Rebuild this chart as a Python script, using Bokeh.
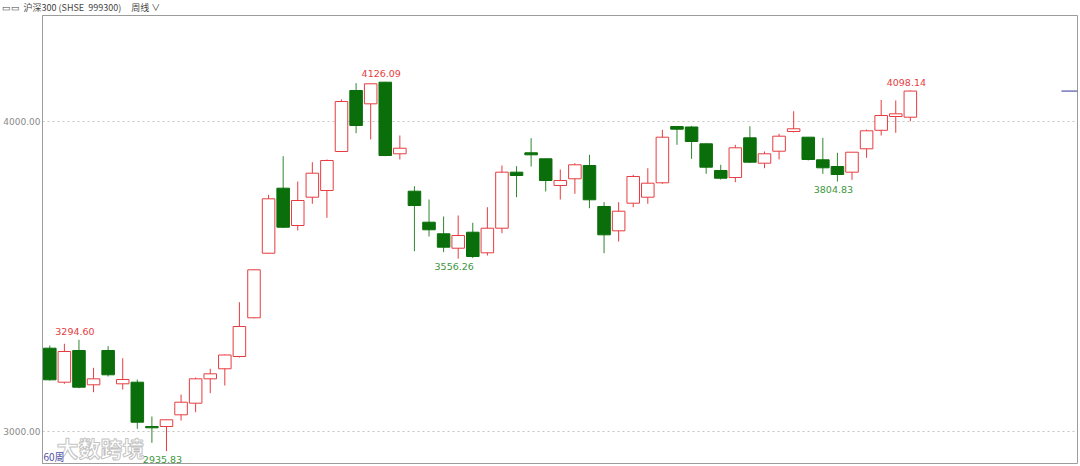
from bokeh.plotting import figure
from bokeh.models import Range1d, FixedTicker, NumeralTickFormatter, Label, ColumnDataSource
from bokeh.embed import file_html
from bokeh.resources import INLINE
from bokeh.core.properties import value

# ---- data (weekly candles) ----
opens = [3267.6, 3158.0, 3260.2, 3149.6, 3260.2, 3152.8, 3158.0, 3015.2, 3015.2, 3052.9,
         3090.3, 3168.9, 3201.2, 3240.8, 3365.6, 3573.8, 3783.4, 3663.1, 3754.4, 3776.0,
         3901.7, 4098.3, 4055.4, 4125.1, 3894.3, 3773.7, 3673.8, 3636.4, 3589.9, 3641.5,
         3575.1, 3654.4, 3835.0, 3897.5, 3878.1, 3792.1, 3813.7, 3856.5, 3724.4, 3646.0,
         3735.0, 3754.4, 3800.8, 3982.3, 3980.7, 3926.5, 3840.4, 3817.9, 3945.8, 3864.0,
         3902.6, 3966.2, 3947.8, 3874.9, 3853.3, 3835.0, 3910.4, 3970.0, 4014.5, 4012.2]
highs = [3276.3, 3281.8, 3294.60, 3204.4, 3274.0, 3235.3, 3166.7, 3047.4, 3038.0, 3118.3,
         3173.1, 3201.2, 3247.3, 3415.9, 3522.0, 3762.1, 3886.5, 3805.0, 3867.2, 3875.9,
         4069.3, 4121.9, 4120.9, 4126.09, 3953.3, 3789.8, 3746.9, 3692.1, 3695.4, 3671.8,
         3722.1, 3856.5, 3854.3, 3944.6, 3879.0, 3843.7, 3864.0, 3891.0, 3738.2, 3738.2,
         3826.6, 3847.8, 3971.6, 3984.0, 3984.0, 3927.5, 3858.8, 3923.3, 3983.2, 3901.7,
         3958.7, 4031.6, 3948.4, 3945.8, 3897.5, 3900.0, 3972.6, 4067.7, 4066.1, 4098.14]
lows = [3163.5, 3152.8, 3138.6, 3125.7, 3176.3, 3134.4, 3007.8, 2962.6, 2935.83, 3034.5,
        3061.3, 3122.5, 3147.3, 3237.6, 3364.0, 3572.0, 3655.0, 3647.0, 3733.1, 3688.0,
        3900.0, 3960.7, 3940.4, 3886.5, 3875.9, 3580.3, 3627.7, 3577.1, 3556.26, 3558.0,
        3566.4, 3638.3, 3754.4, 3853.3, 3772.7, 3746.9, 3765.3, 3718.9, 3573.8, 3611.5,
        3722.1, 3733.1, 3797.6, 3923.3, 3878.1, 3829.8, 3811.4, 3802.7, 3864.6, 3847.8,
        3875.9, 3963.0, 3872.7, 3829.8, 3804.83, 3810.4, 3881.4, 3953.3, 3962.0, 3999.4]
closes = [3165.7, 3256.9, 3141.9, 3168.9, 3181.8, 3166.7, 3029.0, 3011.0, 3036.8, 3093.5,
          3168.9, 3185.0, 3245.7, 3337.5, 3520.3, 3749.2, 3657.6, 3743.7, 3831.7, 3872.7,
          4062.9, 3985.5, 4119.9, 3888.8, 3912.3, 3727.6, 3649.3, 3593.2, 3630.9, 3563.2,
          3654.4, 3835.0, 3824.3, 3891.0, 3808.2, 3808.2, 3858.8, 3746.0, 3633.1, 3709.2,
          3821.1, 3799.5, 3947.8, 3973.6, 3933.9, 3851.1, 3815.6, 3913.6, 3867.2, 3894.3,
          3951.0, 3974.9, 3875.9, 3849.1, 3827.5, 3899.4, 3968.4, 4017.7, 4023.2, 4096.5]

high_marks = [2, 23, 59]   # candles whose high is annotated
low_marks = [8, 28, 54]    # candles whose low is annotated
y_ticks = [3000, 4000]
NB = "\u00a0"
header = "▭▭" + NB * 2 + "沪深300 (SHSE" + NB * 2 + "999300)" + NB * 5 + "周线 ∨"

RED = "#e63c40"
GREEN = "#0a6e0a"
GREEN_WICK = "#2f862f"

N = len(opens)
idx = list(range(N))
up = [c >= o for o, c in zip(opens, closes)]

def sub(cond):
    ii = [i for i in idx if cond(i)]
    return ColumnDataSource(dict(
        x=ii,
        top=[max(opens[i], closes[i]) for i in ii],
        bottom=[min(opens[i], closes[i]) for i in ii],
        high=[highs[i] for i in ii],
        low=[lows[i] for i in ii],
    ))

src_up = sub(lambda i: up[i])
src_dn = sub(lambda i: not up[i])

X0, X1 = -0.5, 70.46
p = figure(width=1080, height=466, output_backend="svg", toolbar_location=None,
           x_range=Range1d(X0, X1), y_range=Range1d(2895.9, 4340.1),
           x_axis_location=None, y_axis_location="left",
           min_border_left=41, min_border_right=3, min_border_top=15, min_border_bottom=3)
p.background_fill_color = "white"
p.border_fill_color = "white"
p.outline_line_color = "#9c9c9c"
p.outline_line_width = 1

p.title.text = header
p.title.align = "left"
p.title.vertical_align = "top"
p.title.offset = -41
p.title.standoff = 0
p.title.text_font = "Noto Sans CJK SC"
p.title.text_font_size = "9px"
p.title.text_font_style = "normal"
p.title.text_color = "#444444"

ax = p.yaxis[0]
ax.ticker = FixedTicker(ticks=y_ticks)
ax.formatter = NumeralTickFormatter(format="0.00")
ax.major_tick_line_color = None
ax.minor_tick_line_color = None
ax.major_tick_out = 0
ax.major_tick_in = 0
ax.minor_tick_out = 0
ax.minor_tick_in = 0
ax.axis_line_color = "#9c9c9c"
ax.major_label_standoff = 2
ax.major_label_text_font = "DejaVu Sans"
ax.major_label_text_font_size = "9px"
ax.major_label_text_color = "#8a8a8a"

p.xgrid.visible = False
p.ygrid.ticker = FixedTicker(ticks=y_ticks)
p.ygrid.grid_line_color = "#c4c4c4"
p.ygrid.grid_line_dash = "2 3"

W = 0.86
# wicks
p.segment(x0="x", y0="high", x1="x", y1="low", source=src_up, line_color=RED, line_width=1)
p.segment(x0="x", y0="high", x1="x", y1="low", source=src_dn, line_color=GREEN_WICK, line_width=1)
# bodies
p.vbar(x="x", top="top", bottom="bottom", width=W, source=src_up,
       fill_color="white", line_color=RED, line_width=1)
p.vbar(x="x", top="top", bottom="bottom", width=W, source=src_dn,
       fill_color=GREEN, line_color=GREEN, line_width=1)

# extreme labels
p.text(x=high_marks, y=[highs[i] for i in high_marks],
       text=["%.2f" % highs[i] for i in high_marks],
       text_font=value("DejaVu Sans"), text_font_size="9.5px", text_color=RED,
       text_align="center", text_baseline="middle", x_offset=-4, y_offset=-8)
p.text(x=low_marks, y=[lows[i] for i in low_marks],
       text=["%.2f" % lows[i] for i in low_marks],
       text_font=value("DejaVu Sans"), text_font_size="9.5px", text_color="#3c963c",
       text_align="center", text_baseline="middle", x_offset=-4, y_offset=8)

# last price marker at right edge
p.segment(x0=[X1 - 1.1], y0=[closes[-1]], x1=[X1], y1=[closes[-1]],
          line_color="#30309c", line_width=1)

# captions inside the frame
p.add_layout(Label(x=14, y=17, x_units="screen", y_units="screen", text="大数跨境",
                   text_font="Noto Sans CJK SC", text_font_size="22px", text_font_style="bold",
                   text_color="#ffffff", text_alpha=0.95,
                   text_outline_color="#c0c0c0",
                   text_baseline="middle"))
p.add_layout(Label(x=1, y=7, x_units="screen", y_units="screen", text="60周",
                   text_font="Noto Sans CJK SC", text_font_size="10px", text_color="#5050aa",
                   text_baseline="middle"))

html = file_html(p, INLINE)
html = html.replace("</head>", "<style>html,body{margin:0!important;padding:0;overflow:hidden}</style></head>", 1)
open("out.html", "w").write(html)
